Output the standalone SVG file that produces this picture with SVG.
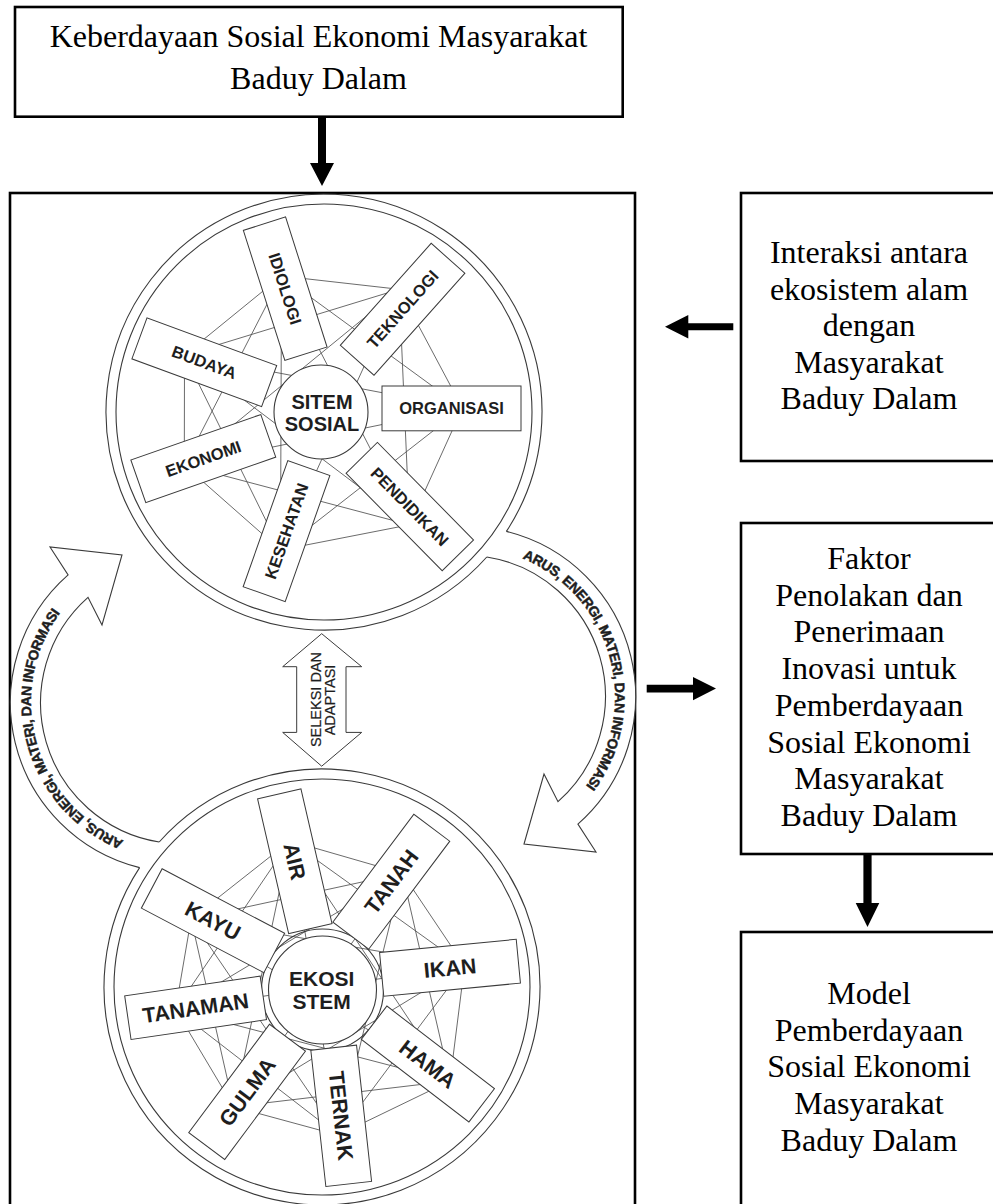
<svg xmlns="http://www.w3.org/2000/svg" width="993" height="1204" viewBox="0 0 993 1204">
<defs>
<style>
.box{fill:#fff;stroke:#000;stroke-width:2.6}
.serif{font-family:"Liberation Serif","Times New Roman",serif;font-size:32px;fill:#000;text-anchor:middle}
.ln{fill:none;stroke:#3a3a3a;stroke-width:1.1}
.bandfill{fill:#fff;stroke:none}
.web{fill:none;stroke:#505050;stroke-width:0.85}
.spoke{fill:#fff;stroke:#3a3a3a;stroke-width:1}
.hub{fill:#fff;stroke:#3a3a3a;stroke-width:1.1}
.lbl{font-family:"Liberation Sans",Arial,sans-serif;font-weight:bold;fill:#1e1e1e;text-anchor:middle}
.s1{font-size:16.5px}
.s2{font-size:21.5px}
.flow{font-family:"Liberation Sans",Arial,sans-serif;font-weight:bold;font-size:14px;letter-spacing:-0.3px;fill:#1e1e1e;stroke:#1e1e1e;stroke-width:0.45}
.sel{font-family:"Liberation Sans",Arial,sans-serif;font-size:14.5px;fill:#1e1e1e;stroke:#1e1e1e;stroke-width:0.2;text-anchor:middle}
.arw{fill:#000;stroke:none}
</style>
<path id="arcL" d="M144.7 847.5 A150 150 0 0 1 80.6 590.5"/>
</defs>
<rect width="993" height="1204" fill="#fff"/>

<g id="node-keberdayaan">
<rect class="box" x="15" y="7" width="607.7" height="109.7"/>
<text class="serif" x="318.5" y="47">Keberdayaan Sosial Ekonomi Masyarakat</text>
<text class="serif" x="318.5" y="88.5">Baduy Dalam</text>
</g>

<g id="node-sistem">
<rect class="box" x="10" y="193" width="625" height="1030"/>

<g id="flow-left">
<path class="bandfill" d="M139.6 867.6 A170 170 0 0 1 68.1 574.9 L50 547 L122 555 L102 625 L88 597.3 A141 141 0 0 0 159.2 842 Z"/>
<path class="ln" d="M139.6 867.6 A170 170 0 0 1 68.1 574.9 L50 547 L122 555 L102 625 L88 597.3 A141 141 0 0 0 159.2 842"/>
<text class="flow"><textPath href="#arcL" startOffset="22">ARUS, ENERGI, MATERI, DAN INFORMASI</textPath></text>
</g>
<g id="flow-right" transform="rotate(180 323 699.5)">
<path class="bandfill" d="M139.6 867.6 A170 170 0 0 1 68.1 574.9 L50 547 L122 555 L102 625 L88 597.3 A141 141 0 0 0 159.2 842 Z"/>
<path class="ln" d="M139.6 867.6 A170 170 0 0 1 68.1 574.9 L50 547 L122 555 L102 625 L88 597.3 A141 141 0 0 0 159.2 842"/>
<text class="flow"><textPath href="#arcL" startOffset="22">ARUS, ENERGI, MATERI, DAN INFORMASI</textPath></text>
</g>

<g id="seleksi">
<path class="spoke" d="M321.7 633.7 L361.7 666.7 L346 666.7 L346 732.4 L361.7 732.4 L321.7 766.2 L282.7 732.4 L296.7 732.4 L296.7 666.7 L282.7 666.7 Z"/>
<text class="sel" transform="translate(320.5 699.5) rotate(-90)">SELEKSI DAN</text>
<text class="sel" transform="translate(335 700) rotate(-90)">ADAPTASI</text>
</g>

<g id="sistem-sosial">
<path class="ln" d="M486.8 557 A218 218 0 1 1 506.4 531.4"/>
<circle class="ln" cx="324" cy="412" r="208"/>
<path class="web" d="M281.5 276 L399.2 289.3 M281.5 276 L462.4 408 M281.5 276 L409.5 524.8 M281.5 276 L280.5 550 M281.5 276 L184.3 465.2 M281.5 276 L184.5 355 M399.2 289.3 L462.4 408 M399.2 289.3 L409.5 524.8 M399.2 289.3 L280.5 550 M399.2 289.3 L184.3 465.2 M399.2 289.3 L184.5 355 M462.4 408 L409.5 524.8 M462.4 408 L280.5 550 M462.4 408 L184.3 465.2 M462.4 408 L184.5 355 M409.5 524.8 L280.5 550 M409.5 524.8 L184.3 465.2 M409.5 524.8 L184.5 355 M280.5 550 L184.3 465.2 M280.5 550 L184.5 355 M184.3 465.2 L184.5 355"/>
<g id="s-idiologi" transform="translate(285.2 288.7) rotate(72.3)"><rect class="spoke" x="-68.25" y="-22.15" width="136.5" height="44.3"/><text class="lbl s1" y="5.9">IDIOLOGI</text></g>
<g id="s-teknologi" transform="translate(402.6 309.3) rotate(-48.3)"><rect class="spoke" x="-68.3" y="-22.55" width="136.6" height="45.1"/><text class="lbl s1" y="5.9">TEKNOLOGI</text></g>
<g id="s-organisasi" transform="translate(451.5 408.4)"><rect class="spoke" x="-69.5" y="-22.4" width="139" height="44.8"/><text class="lbl s1" y="5.9">ORGANISASI</text></g>
<g id="s-pendidikan" transform="translate(409.8 506.6) rotate(45.4)"><rect class="spoke" x="-68.45" y="-22" width="136.9" height="44"/><text class="lbl s1" y="5.9">PENDIDIKAN</text></g>
<g id="s-kesehatan" transform="translate(286.5 531.1) rotate(-70.5)"><rect class="spoke" x="-66.9" y="-22.3" width="133.8" height="44.6"/><text class="lbl s1" y="5.9">KESEHATAN</text></g>
<g id="s-ekonomi" transform="translate(203.3 458.6) rotate(-19.3)"><rect class="spoke" x="-68.85" y="-22.6" width="137.7" height="45.2"/><text class="lbl s1" y="5.9">EKONOMI</text></g>
<g id="s-budaya" transform="translate(204.3 362.2) rotate(20.2)"><rect class="spoke" x="-69.1" y="-21.85" width="138.2" height="43.7"/><text class="lbl s1" y="5.9">BUDAYA</text></g>
<g id="s-hub">
<circle class="hub" cx="321" cy="412" r="47"/>
<text class="lbl" style="font-size:20px" x="322" y="409.3">SITEM</text>
<text class="lbl" style="font-size:20px" x="322" y="430.7">SOSIAL</text>
</g>
</g>

<g id="ekosistem">
<path class="ln" d="M159.2 842 A218 218 0 1 1 139.6 867.6"/>
<circle class="ln" cx="322" cy="987" r="208"/>
<path class="web" d="M290.1 840.9 L402.3 873.3 M290.1 840.9 L464.5 966 M290.1 840.9 L450 1081 M290.1 840.9 L338.2 1135.1 M290.1 840.9 L233.6 1106.7 M290.1 840.9 L175.6 1009.4 M290.1 840.9 L191.1 919 M402.3 873.3 L464.5 966 M402.3 873.3 L450 1081 M402.3 873.3 L338.2 1135.1 M402.3 873.3 L233.6 1106.7 M402.3 873.3 L175.6 1009.4 M402.3 873.3 L191.1 919 M464.5 966 L450 1081 M464.5 966 L338.2 1135.1 M464.5 966 L233.6 1106.7 M464.5 966 L175.6 1009.4 M464.5 966 L191.1 919 M450 1081 L338.2 1135.1 M450 1081 L233.6 1106.7 M450 1081 L175.6 1009.4 M450 1081 L191.1 919 M338.2 1135.1 L233.6 1106.7 M338.2 1135.1 L175.6 1009.4 M338.2 1135.1 L191.1 919 M233.6 1106.7 L175.6 1009.4 M233.6 1106.7 L191.1 919 M175.6 1009.4 L191.1 919"/>
<circle class="ln" cx="322.5" cy="990" r="61"/>
<g id="e-air" transform="translate(294.8 861.3) rotate(77)"><rect class="spoke" x="-69.1" y="-22.25" width="138.2" height="44.5"/><text class="lbl s2" y="7.7">AIR</text></g>
<g id="e-tanah" transform="translate(391.3 881.7) rotate(-53.1)"><rect class="spoke" x="-67.45" y="-22.45" width="134.9" height="44.9"/><text class="lbl s2" y="7.7">TANAH</text></g>
<g id="e-ikan" transform="translate(450 967.8) rotate(-5.5)"><rect class="spoke" x="-68.65" y="-22" width="137.3" height="44"/><text class="lbl s2" y="7.7">IKAN</text></g>
<g id="e-hama" transform="translate(427.9 1064) rotate(37.5)"><rect class="spoke" x="-67.8" y="-21" width="135.6" height="42"/><text class="lbl s2" y="7.7">HAMA</text></g>
<g id="e-ternak" transform="translate(341.2 1115.8) rotate(83.7)"><rect class="spoke" x="-68.55" y="-23" width="137.1" height="46"/><text class="lbl s2" y="7.7">TERNAK</text></g>
<g id="e-gulma" transform="translate(247.1 1091.9) rotate(-53.3)"><rect class="spoke" x="-67.55" y="-22.45" width="135.1" height="44.9"/><text class="lbl s2" y="7.7">GULMA</text></g>
<g id="e-tanaman" transform="translate(195.6 1007.8) rotate(-8.3)"><rect class="spoke" x="-68.45" y="-22" width="136.9" height="44"/><text class="lbl s2" y="7.7">TANAMAN</text></g>
<g id="e-kayu" transform="translate(213 920.7) rotate(27.8)"><rect class="spoke" x="-69.25" y="-22.25" width="138.5" height="44.5"/><text class="lbl s2" y="7.7">KAYU</text></g>
<g id="e-hub">
<circle class="hub" cx="322.5" cy="990" r="54"/>
<text class="lbl" style="font-size:21px" x="321.7" y="985.9">EKOSI</text>
<text class="lbl" style="font-size:21px" x="321.7" y="1008.6">STEM</text>
</g>
</g>
</g>

<g id="node-interaksi">
<rect class="box" x="741" y="193" width="260" height="268"/>
<text class="serif" x="869" y="263.3">Interaksi antara</text>
<text class="serif" x="869" y="299.8">ekosistem alam</text>
<text class="serif" x="869" y="336.3">dengan</text>
<text class="serif" x="869" y="372.8">Masyarakat</text>
<text class="serif" x="869" y="409.3">Baduy Dalam</text>
</g>

<g id="node-faktor">
<rect class="box" x="741" y="523" width="260" height="331"/>
<text class="serif" x="869" y="569">Faktor</text>
<text class="serif" x="869" y="605.7">Penolakan dan</text>
<text class="serif" x="869" y="642.4">Penerimaan</text>
<text class="serif" x="869" y="679.1">Inovasi untuk</text>
<text class="serif" x="869" y="715.8">Pemberdayaan</text>
<text class="serif" x="869" y="752.5">Sosial Ekonomi</text>
<text class="serif" x="869" y="789.2">Masyarakat</text>
<text class="serif" x="869" y="825.9">Baduy Dalam</text>
</g>

<g id="node-model">
<rect class="box" x="741" y="932" width="260" height="290"/>
<text class="serif" x="869" y="1004">Model</text>
<text class="serif" x="869" y="1040.7">Pemberdayaan</text>
<text class="serif" x="869" y="1077.4">Sosial Ekonomi</text>
<text class="serif" x="869" y="1114.1">Masyarakat</text>
<text class="serif" x="869" y="1150.8">Baduy Dalam</text>
</g>

<g id="connectors">
<path class="arw" d="M318 116 H326 V163 H334 L322 186 L310 163 H318 Z"/>
<path class="arw" d="M733.3 323.2 V330.2 H688.3 V338.4 L665 326.7 L688.3 315 V323.2 Z"/>
<path class="arw" d="M646.7 684.8 H693 V676.9 L716 688.6 L693 700.3 V692.4 H646.7 Z"/>
<path class="arw" d="M863.4 854 H871.6 V903 H879.3 L867.5 927 L855.7 903 H863.4 Z"/>
</g>
</svg>
